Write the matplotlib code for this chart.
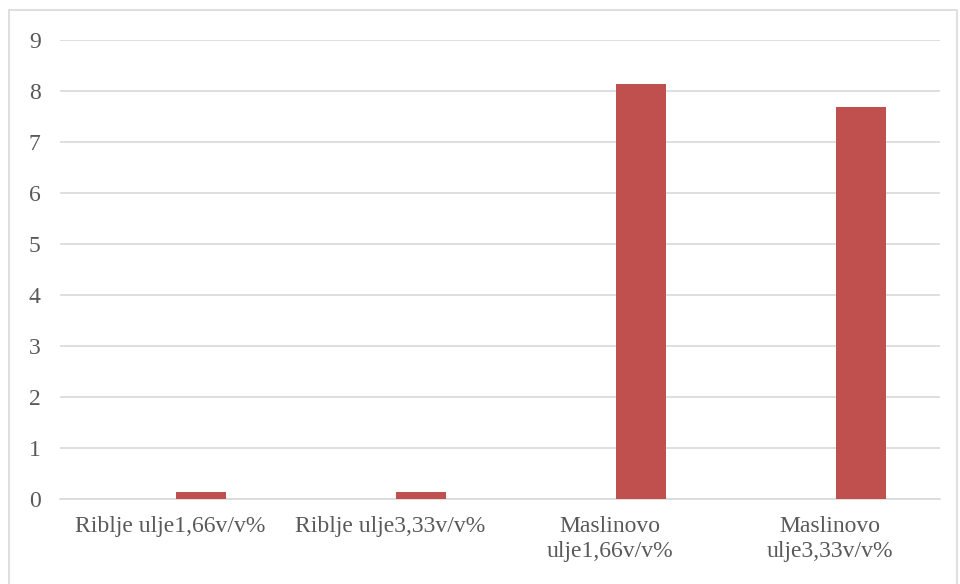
import matplotlib
matplotlib.use('Agg')
from matplotlib import pyplot as plt
import numpy as np

categories = ['Riblje ulje1,66v/v%', 'Riblje ulje3,33v/v%',
              'Maslinovo\nulje1,66v/v%', 'Maslinovo\nulje3,33v/v%']
values = [0.13, 0.14, 8.14, 7.69]
yticks = [0, 1, 2, 3, 4, 5, 6, 7, 8, 9]

plt.rcParams['font.family'] = ['Liberation Serif', 'DejaVu Serif']

fig = plt.figure(figsize=(9.6, 5.84), dpi=100)
ax = fig.add_axes([0.0625, 0.1455, 0.9165, 0.786])

x = np.arange(len(categories))
ax.bar(x + 0.14, values, width=0.227, color='#c0504d', zorder=3)

ax.set_xlim(-0.5, len(categories) - 0.5)
ax.set_ylim(0, 9)
ax.set_yticks(yticks)
ax.set_xticks(x)
ax.set_xticklabels(categories, linespacing=1.3)
ax.grid(axis='y', color='#d9d9d9', linewidth=1.2, zorder=0)
for s in ['top', 'right', 'left']:
    ax.spines[s].set_visible(False)
ax.spines['bottom'].set_color('#d9d9d9')
ax.spines['bottom'].set_linewidth(1.2)
ax.tick_params(axis='both', length=0, colors='#595959', labelsize=17)
ax.tick_params(axis='y', pad=14)
ax.tick_params(axis='x', pad=12)

# outer chart border
fig.patches.append(plt.Rectangle((9 / 960, -0.01), 948 / 960, 1 - 10 / 584 + 0.01,
                                 transform=fig.transFigure, fill=False,
                                 edgecolor='#d9d9d9', linewidth=1.2))

fig.savefig('out.png', dpi=100)
